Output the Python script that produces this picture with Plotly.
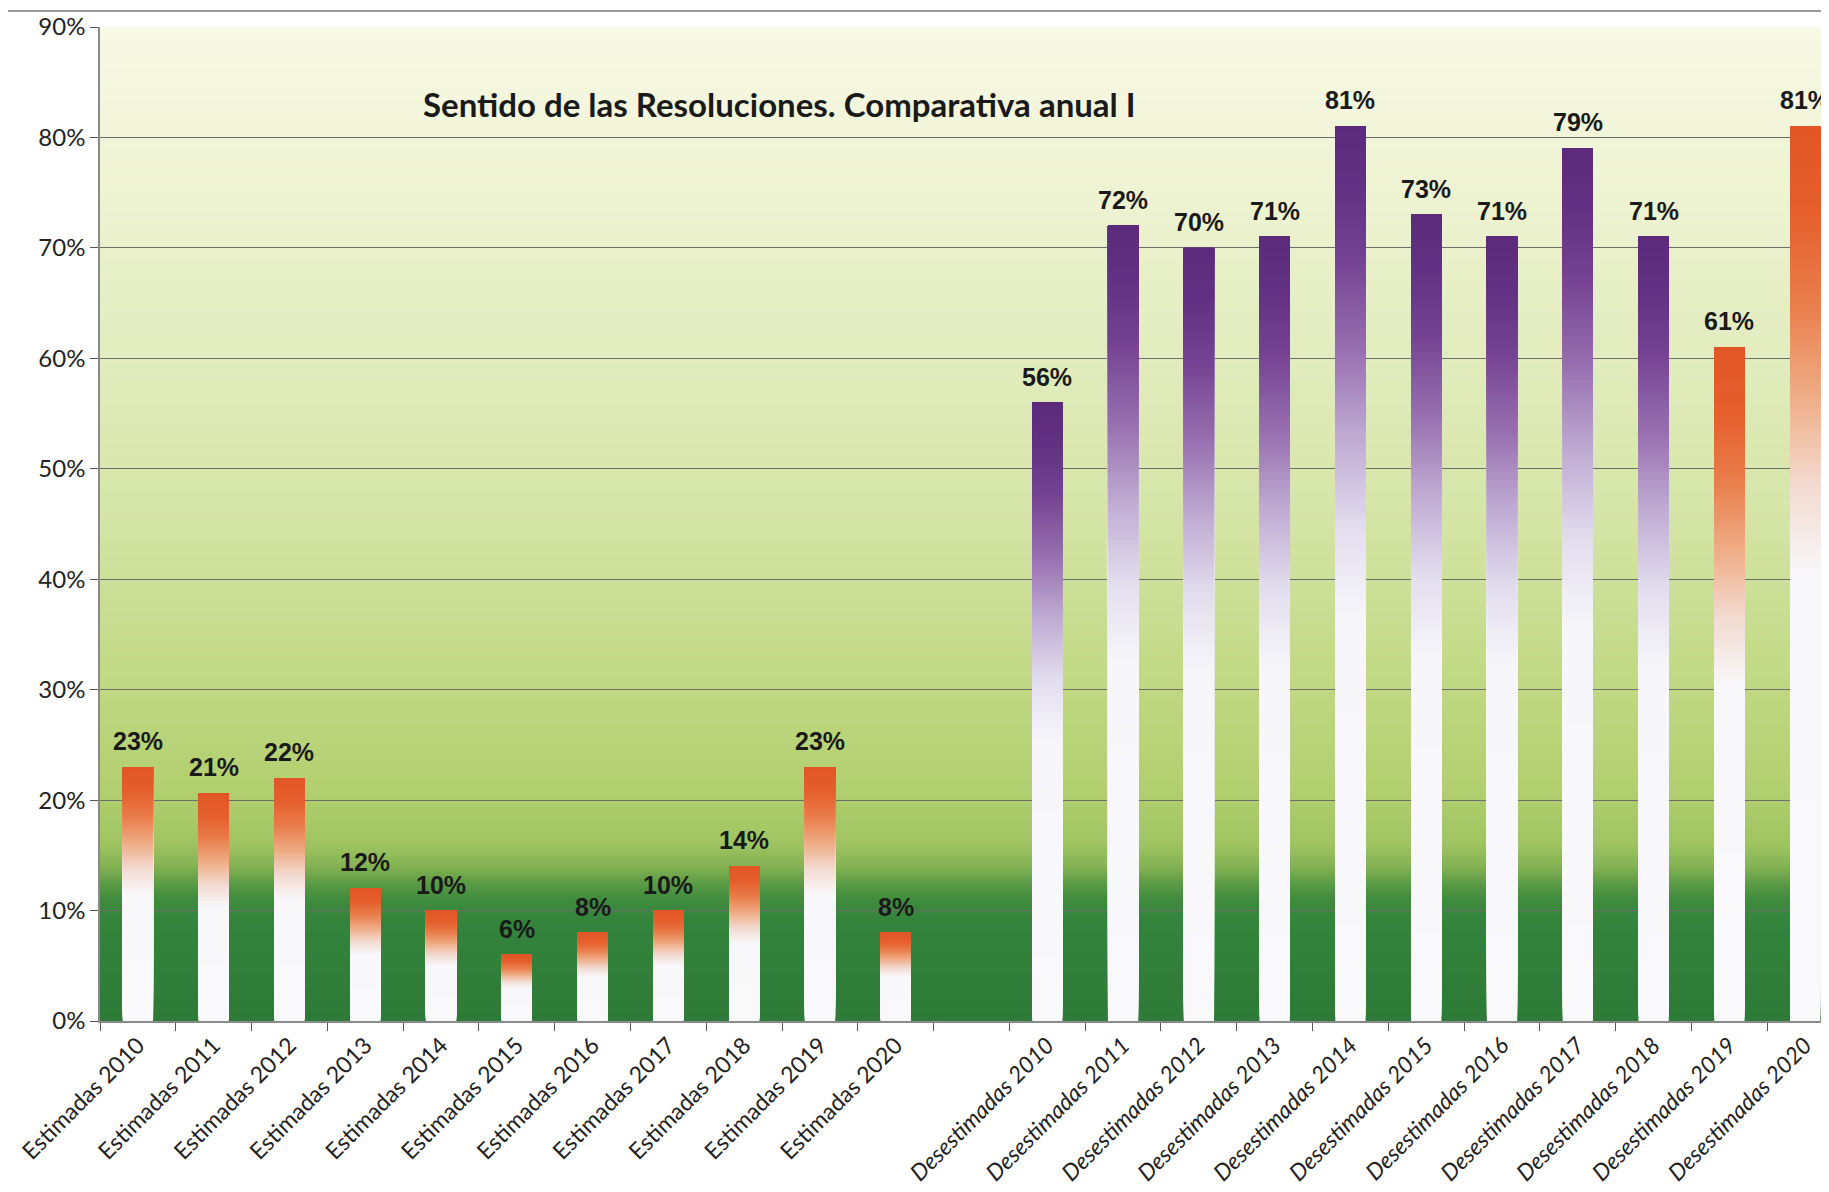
import zlib, struct, base64
import plotly.graph_objects as go

# ---------------- data ----------------
estimadas_labels = ["Estimadas 2010", "Estimadas 2011", "Estimadas 2012", "Estimadas 2013",
                    "Estimadas 2014", "Estimadas 2015", "Estimadas 2016", "Estimadas 2017",
                    "Estimadas 2018", "Estimadas 2019", "Estimadas 2020"]
desestimadas_labels = ["Desestimadas 2010", "Desestimadas 2011", "Desestimadas 2012",
                       "Desestimadas 2013", "Desestimadas 2014", "Desestimadas 2015",
                       "Desestimadas 2016", "Desestimadas 2017", "Desestimadas 2018",
                       "Desestimadas 2019", "Desestimadas 2020"]
estimadas = [0.23, 0.206, 0.22, 0.12, 0.10, 0.06, 0.08, 0.10, 0.14, 0.23, 0.08]
desestimadas = [0.56, 0.72, 0.70, 0.71, 0.81, 0.73, 0.71, 0.79, 0.71, 0.61, 0.81]
desestimadas_tone = ["purple"] * 9 + ["orange", "orange"]
title_text = "Sentido de las Resoluciones. Comparativa anual I"

GAP = " "
categories = estimadas_labels + [GAP] + desestimadas_labels
values = estimadas + [None] + desestimadas
tones = ["orange"] * len(estimadas) + ["orange"] + desestimadas_tone
tick_text = estimadas_labels + [""] + ["<i>%s</i>" % t for t in desestimadas_labels]

# ---------------- styles ----------------
STOPS = {
    "orange": [(0.0, (249, 249, 251)), (0.50, (248, 247, 249)), (0.60, (242, 218, 208)),
               (0.70, (239, 172, 133)), (0.80, (233, 126, 76)), (0.90, (229, 96, 46)),
               (1.0, (226, 86, 38))],
    "purple": [(0.0, (249, 249, 252)), (0.45, (247, 246, 250)), (0.55, (226, 222, 238)),
               (0.65, (192, 172, 211)), (0.75, (152, 112, 176)), (0.85, (117, 67, 146)),
               (0.93, (99, 49, 131)), (1.0, (93, 43, 123))],
}


def interp(stops, f):
    for (f0, c0), (f1, c1) in zip(stops[:-1], stops[1:]):
        if f0 <= f <= f1:
            t = 0 if f1 == f0 else (f - f0) / (f1 - f0)
            return tuple(round(a + (b - a) * t) for a, b in zip(c0, c1))
    return stops[-1][1]


def rgb(c):
    return "rgb(%d,%d,%d)" % c


BG_STOPS = [(0.0, (46, 122, 56)), (0.09, (52, 132, 60)), (0.11, (64, 139, 62)),
            (0.125, (92, 156, 70)), (0.14, (132, 178, 84)), (0.16, (160, 196, 98)),
            (0.21, (178, 207, 112)), (0.30, (192, 216, 130)), (0.45, (212, 228, 165)),
            (0.60, (226, 236, 190)), (0.75, (238, 243, 210)), (0.90, (248, 249, 230))]


def make_png(rows):
    raw = b"".join(b"\x00" + bytes(c) for c in rows)

    def chunk(tag, data):
        return (struct.pack(">I", len(data)) + tag + data +
                struct.pack(">I", zlib.crc32(tag + data) & 0xffffffff))
    png = b"\x89PNG\r\n\x1a\n"
    png += chunk(b"IHDR", struct.pack(">IIBBBBB", 1, len(rows), 8, 2, 0, 0, 0))
    png += chunk(b"IDAT", zlib.compress(raw, 9))
    png += chunk(b"IEND", b"")
    return "data:image/png;base64," + base64.b64encode(png).decode()


NROWS = 400
bg_rows = [interp(BG_STOPS, 0.9 * (1 - (i + 0.5) / NROWS)) for i in range(NROWS)]
bg_uri = make_png(bg_rows)

fig = go.Figure()

N = 200
for k in range(N):
    f_lo = k / N
    f_mid = (k + 0.5) / N
    fig.add_trace(go.Bar(
        x=categories,
        y=[None if v is None else v * (1 - f_lo) for v in values],
        base=[None if v is None else v * f_lo for v in values],
        marker=dict(color=[rgb(interp(STOPS[t], f_mid)) for t in tones], line=dict(width=0)),
        width=0.4, hoverinfo="skip", showlegend=False,
    ))

label_font = dict(family="Liberation Sans", size=25, color="#1a1a1a", weight=700)
annotations = [
    dict(x=c, y=v, xref="x", yref="y", text=f"{v:.0%}", showarrow=False,
         xanchor="center", yanchor="bottom", yshift=10, font=label_font)
    for c, v in zip(categories, values) if v is not None
]

plot_w = 1829 - 92
plot_h = 1013 - 19

annotations.append(dict(text=title_text, xref="paper", yref="paper",
                        x=(771 - 92) / plot_w, y=(1013 - 96) / plot_h,
                        xanchor="center", yanchor="middle", showarrow=False,
                        font=dict(family="Lato", size=33, color="#1a1a1a", weight=700)))

fig.update_layout(
    width=1829, height=1192,
    margin=dict(l=92, r=0, t=19, b=179),
    paper_bgcolor="white", plot_bgcolor="rgba(0,0,0,0)",
    barmode="overlay", bargap=0.6,
    images=[dict(source=bg_uri, xref="paper", yref="y", x=0, y=0.9, sizex=1, sizey=0.9,
                 sizing="stretch", xanchor="left", yanchor="top", layer="below")],
    xaxis=dict(type="category", categoryorder="array", categoryarray=categories,
               range=[-0.5, 22.42], tickmode="array", tickvals=categories, ticktext=tick_text,
               tickangle=-45, tickfont=dict(family="Lato", size=23, color="#222"),
               ticks="outside", tickson="boundaries", ticklen=8, tickcolor="#555",
               showline=True, linecolor="#8a8a8a", linewidth=1.5, showgrid=False),
    yaxis=dict(range=[0, 0.9], dtick=0.1, tickformat=".0%",
               tickfont=dict(family="Lato", size=24, color="#222"),
               ticks="outside", ticklen=8, tickcolor="#555",
               showgrid=True, gridcolor="#6e6e6e", gridwidth=1.3,
               showline=True, linecolor="#8a8a8a", linewidth=1.5, zeroline=False),
    annotations=annotations,
    shapes=[dict(type="line", xref="paper", yref="paper", x0=-92 / plot_w, x1=1,
                 y0=(1013 - 3) / plot_h, y1=(1013 - 3) / plot_h,
                 line=dict(color="#9a9a9a", width=2))],
)

fig.write_html("out.html")
